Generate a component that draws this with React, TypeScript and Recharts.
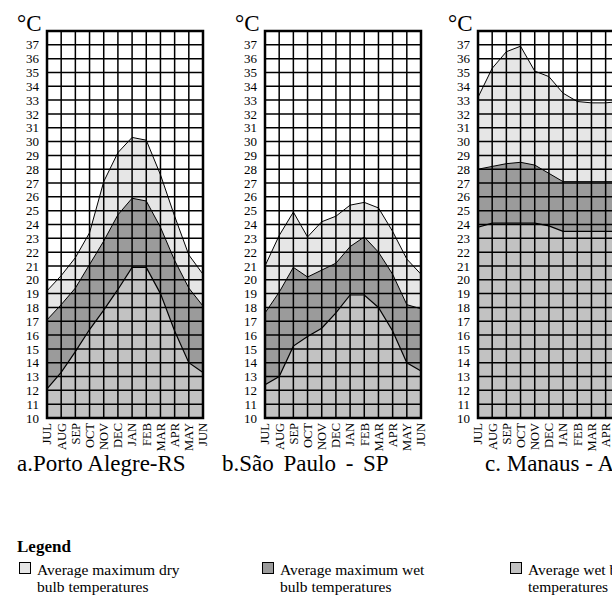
import React from "react";
import { ComposedChart, Area, Line, XAxis, YAxis, CartesianGrid, ReferenceArea } from "recharts";

const months = ["JUL", "AUG", "SEP", "OCT", "NOV", "DEC", "JAN", "FEB", "MAR", "APR", "MAY", "JUN"];
const xTicks = [0, 1, 2, 3, 4, 5, 6, 7, 8, 9, 10, 11];
const yTicks = [10, 11, 12, 13, 14, 15, 16, 17, 18, 19, 20, 21, 22, 23, 24, 25, 26, 27, 28, 29, 30, 31, 32, 33, 34, 35, 36, 37];

// a. Porto Alegre
const portoAlegreDry = [19.2, 20.3, 21.6, 23.4, 27.1, 29.2, 30.3, 30.1, 27.6, 24.6, 21.8, 20.4];
const portoAlegreWetMax = [17.1, 18.2, 19.4, 21.1, 22.8, 24.7, 25.9, 25.7, 23.8, 21.4, 19.4, 18.1];
const portoAlegreWet = [12.1, 13.3, 14.8, 16.4, 17.8, 19.3, 20.9, 20.9, 19.0, 16.3, 14.0, 13.3];

// b. Sao Paulo
const saoPauloDry = [21.0, 23.2, 24.9, 23.1, 24.2, 24.6, 25.4, 25.6, 25.2, 23.5, 21.5, 20.4];
const saoPauloWetMax = [17.6, 19.1, 20.9, 20.2, 20.7, 21.2, 22.4, 23.1, 22.0, 20.4, 18.2, 17.9];
const saoPauloWet = [12.4, 13.0, 15.2, 15.9, 16.5, 17.6, 18.9, 18.9, 18.0, 16.3, 14.0, 13.4];

// c. Manaus
const manausDry = [33.2, 35.3, 36.5, 36.9, 35.1, 34.7, 33.5, 32.9, 32.8, 32.8, 32.9, 33.0];
const manausWetMax = [28.0, 28.2, 28.4, 28.5, 28.3, 27.7, 27.1, 27.1, 27.1, 27.1, 27.1, 27.2];
const manausWet = [23.8, 24.1, 24.1, 24.1, 24.1, 23.9, 23.5, 23.5, 23.5, 23.5, 23.5, 23.6];

const DRY = "#e6e6e6";
const WET_MAX = "#9b9b9b";
const WET = "#c2c2c2";
const SERIF = "'Liberation Serif', 'Times New Roman', serif";

const W = 215;
const H = 460;
const margin = { top: 31, right: 12, bottom: 2, left: 7 };

function MonthTick({ x, y, payload }: any) {
  return (
    <text
      x={x}
      y={y}
      transform={`rotate(-90 ${x} ${y})`}
      textAnchor="end"
      dy="0.35em"
      fontSize={12.5}
      fontFamily={SERIF}
      fill="#000"
    >
      {months[payload.value]}
    </text>
  );
}

function Panel({ left, dry, wetMax, wet }: { left: number; dry: number[]; wetMax: number[]; wet: number[] }) {
  const data = months.map((m, i) => ({ i, m, dry: dry[i], wetMax: wetMax[i], wet: wet[i] }));
  return (
    <div style={{ position: "absolute", left, top: 0, width: W, height: H }}>
      <div style={{ position: "absolute", left: 0, top: 0 }}>
        <ComposedChart width={W} height={H} data={data} margin={margin}>
          <XAxis dataKey="i" type="number" domain={[0, 11]} ticks={xTicks} tick={false} axisLine={false} tickLine={false} height={40} />
          <YAxis type="number" domain={[10, 38]} ticks={yTicks} tick={false} axisLine={false} tickLine={false} width={40} />
          <Area dataKey="dry" type="linear" baseValue={10} fill={DRY} fillOpacity={1} stroke="#000" strokeWidth={1} isAnimationActive={false} />
          <Area dataKey="wetMax" type="linear" baseValue={10} fill={WET_MAX} fillOpacity={1} stroke="#000" strokeWidth={1} isAnimationActive={false} />
          <Area dataKey="wet" type="linear" baseValue={10} fill={WET} fillOpacity={1} stroke="#000" strokeWidth={1.2} isAnimationActive={false} />
        </ComposedChart>
      </div>
      {/* grid + axes drawn on top of the filled areas */}
      <div style={{ position: "absolute", left: 0, top: 0 }}>
        <ComposedChart width={W} height={H} data={data} margin={margin}>
          <CartesianGrid stroke="#000" strokeWidth={1.5} />
          <XAxis
            dataKey="i"
            type="number"
            domain={[0, 11]}
            ticks={xTicks}
            interval={0}
            tick={<MonthTick />}
            axisLine={false}
            tickLine={false}
            tickSize={0}
            tickMargin={5}
            height={40}
          />
          <YAxis
            dataKey="dry"
            type="number"
            domain={[10, 38]}
            ticks={yTicks}
            interval={0}
            tick={{ fill: "#000", fontSize: 13, fontFamily: SERIF }}
            axisLine={false}
            tickLine={false}
            tickSize={0}
            tickMargin={8}
            width={40}
          />
          <Line dataKey="dry" stroke="none" dot={false} activeDot={false} isAnimationActive={false} />
          <ReferenceArea x1={0} x2={11} y1={10} y2={38} fill="none" stroke="#000" strokeWidth={2.5} />
        </ComposedChart>
      </div>
      <div style={{ position: "absolute", left: 17, top: 12, fontSize: 23, lineHeight: "23px", fontFamily: SERIF }}>°C</div>
    </div>
  );
}

function LegendItem({ left, color, lines }: { left: number; color: string; lines: string[] }) {
  return (
    <div style={{ position: "absolute", left, top: 562 }}>
      <div style={{ position: "absolute", left: 0, top: 0, width: 10, height: 10, background: color, border: "1px solid #000" }} />
      <div style={{ position: "absolute", left: 18, top: 0, fontSize: 15.5, lineHeight: "16.5px", whiteSpace: "nowrap" }}>
        {lines.map((l) => (
          <div key={l}>{l}</div>
        ))}
      </div>
    </div>
  );
}

const titleStyle: React.CSSProperties = { position: "absolute", top: 452, fontSize: 23, lineHeight: "23px", whiteSpace: "nowrap" };

export default function App() {
  return (
    <div
      style={{
        position: "fixed",
        left: 0,
        top: 0,
        width: 612,
        height: 595,
        overflow: "hidden",
        background: "#fff",
        fontFamily: SERIF,
        color: "#000",
      }}
    >
      <Panel left={0} dry={portoAlegreDry} wetMax={portoAlegreWetMax} wet={portoAlegreWet} />
      <Panel left={218} dry={saoPauloDry} wetMax={saoPauloWetMax} wet={saoPauloWet} />
      <Panel left={431} dry={manausDry} wetMax={manausWetMax} wet={manausWet} />

      <div style={{ ...titleStyle, left: 17 }}>a.Porto Alegre-RS</div>
      <div style={{ ...titleStyle, left: 222, wordSpacing: 4 }}>b.São Paulo - SP</div>
      <div style={{ ...titleStyle, left: 485 }}>c. Manaus - AM</div>

      <div style={{ position: "absolute", left: 17, top: 538, fontSize: 17, lineHeight: "17px", fontWeight: "bold" }}>Legend</div>
      <LegendItem left={19} color={DRY} lines={["Average maximum dry", "bulb temperatures"]} />
      <LegendItem left={262} color={WET_MAX} lines={["Average maximum wet", "bulb temperatures"]} />
      <LegendItem left={510} color={WET} lines={["Average wet bulb", "temperatures"]} />
    </div>
  );
}
